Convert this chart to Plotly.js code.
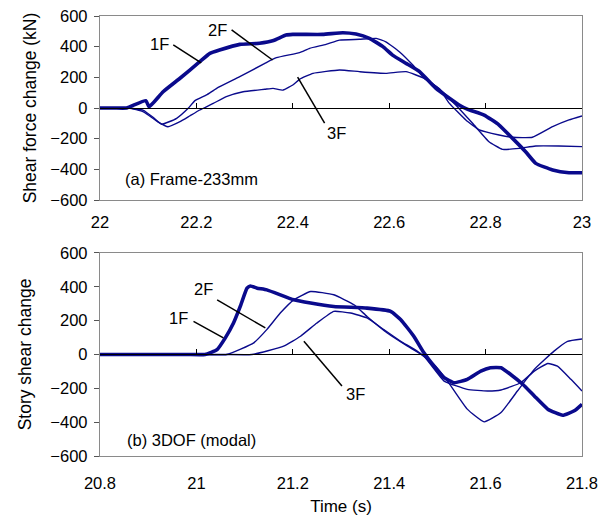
<!DOCTYPE html>
<html>
<head>
<meta charset="utf-8">
<script src="https://cdn.plot.ly/plotly-3.0.1.min.js"></script>
<style>html,body{margin:0;padding:0;background:#fff;}#chart{width:610px;height:516px;}</style>
</head>
<body>
<div id="chart"></div>
<script>
// (a) Frame-233mm
var tA1 = [22, 22.03, 22.055, 22.095, 22.102, 22.131, 22.166, 22.207, 22.228, 22.248, 22.29, 22.331, 22.36, 22.386, 22.40, 22.462, 22.504, 22.531, 22.559, 22.587, 22.607, 22.635, 22.663, 22.697, 22.745, 22.763, 22.797, 22.828, 22.856, 22.883, 22.904, 22.939, 22.973, 23.0];
var vA1 = [0, 0, 0, 48, 8, 106, 194, 302, 356, 378, 415, 422, 440, 476, 480, 480, 491, 482, 454, 400, 345, 291, 237, 128, 20, -9, -46, -111, -198, -285, -361, -404, -422, -422];
var tA2 = [22, 22.03, 22.06, 22.09, 22.11, 22.128, 22.159, 22.183, 22.197, 22.221, 22.242, 22.29, 22.342, 22.366, 22.414, 22.435, 22.469, 22.497, 22.538, 22.573, 22.593, 22.621, 22.649, 22.673, 22.704, 22.738, 22.773, 22.807, 22.835, 22.87, 22.904, 22.952, 23.0];
var vA2 = [0, 0, 0, -15, -60, -106, -67, -2, 48, 85, 128, 204, 291, 328, 361, 389, 415, 443, 448, 454, 432, 367, 280, 193, 125, 20, -100, -220, -270, -263, -248, -248, -252];
var tA3 = [22, 22.03, 22.06, 22.09, 22.12, 22.141, 22.166, 22.186, 22.207, 22.235, 22.262, 22.297, 22.342, 22.359, 22.38, 22.40, 22.414, 22.442, 22.497, 22.538, 22.593, 22.635, 22.673, 22.704, 22.725, 22.759, 22.787, 22.828, 22.856, 22.897, 22.939, 22.973, 23.0];
var vA3 = [0, 0, 0, -25, -90, -122, -89, -52, -13, 30, 74, 106, 122, 128, 117, 150, 187, 226, 248, 237, 226, 237, 193, 125, 30, -78, -143, -176, -191, -191, -122, -78, -52];

// (b) 3DOF (modal)
var tB1 = [20.8, 20.9, 20.98, 21.018, 21.043, 21.06, 21.077, 21.091, 21.105, 21.112, 21.126, 21.146, 21.202, 21.237, 21.285, 21.354, 21.403, 21.424, 21.451, 21.472, 21.493, 21.514, 21.535, 21.562, 21.59, 21.61, 21.632, 21.652, 21.677, 21.701, 21.729, 21.76, 21.784, 21.8];
var vB1 = [0, 0, 0, 0, 29, 98, 186, 284, 392, 405, 392, 382, 323, 304, 284, 274, 255, 206, 108, 10, -69, -137, -167, -147, -98, -78, -78, -118, -176, -245, -323, -359, -333, -294];
var tB2 = [20.8, 20.9, 21.0, 21.063, 21.119, 21.146, 21.174, 21.202, 21.237, 21.285, 21.327, 21.354, 21.396, 21.438, 21.472, 21.514, 21.562, 21.604, 21.632, 21.673, 21.701, 21.729, 21.749, 21.777, 21.8];
var vB2 = [0, 0, 0, 0, 69, 147, 245, 323, 372, 353, 294, 225, 127, 49, -10, -157, -206, -216, -210, -167, -98, -53, -69, -147, -216];
var tB3 = [20.8, 20.9, 21.0, 21.06, 21.115, 21.181, 21.216, 21.25, 21.285, 21.32, 21.354, 21.389, 21.424, 21.458, 21.493, 21.521, 21.562, 21.597, 21.632, 21.666, 21.701, 21.742, 21.77, 21.8];
var vB3 = [0, 0, 0, 0, 0, 49, 108, 186, 255, 245, 216, 147, 78, 20, -59, -157, -323, -398, -343, -216, -88, 20, 78, 92];

var xTicksA = [22, 22.2, 22.4, 22.6, 22.8, 23];
var xTicksB = [20.8, 21, 21.2, 21.4, 21.6, 21.8];
var yTicks = [-600, -400, -200, 0, 200, 400, 600];
var storyLabels = ['1F', '2F', '3F'];

var NAVY = '#0a0a8c';
var FONT = 'Liberation Sans, Arial, sans-serif';

function ln(x, y, w, xa, ya) {
  return {x: x, y: y, type: 'scatter', mode: 'lines', xaxis: xa, yaxis: ya,
    line: {color: NAVY, width: w, shape: 'spline', smoothing: 0.4}, showlegend: false, hoverinfo: 'skip'};
}

var data = [
  ln(tA3, vA3, 1.4, 'x', 'y'),
  ln(tA2, vA2, 1.4, 'x', 'y'),
  ln(tA1, vA1, 3.6, 'x', 'y'),
  ln(tB3, vB3, 1.4, 'x2', 'y2'),
  ln(tB2, vB2, 1.4, 'x2', 'y2'),
  ln(tB1, vB1, 3.6, 'x2', 'y2'),
  {x: [], y: [], type: 'scatter', xaxis: 'x3', yaxis: 'y', showlegend: false},
  {x: [], y: [], type: 'scatter', xaxis: 'x4', yaxis: 'y2', showlegend: false}
];

var domA = [0.5818, 1];
var domB = [0, 0.4614];
var tf = {family: FONT, size: 16.5, color: '#000'};

function zeroAxis(range, ticks, pos) {
  return {domain: [0, 1], anchor: 'free', position: pos, range: range,
    tickvals: ticks, ticks: 'inside', ticklen: 5, tickcolor: '#000', tickwidth: 1,
    showticklabels: false, showline: true, linecolor: '#000', linewidth: 1,
    showgrid: false, zeroline: false, fixedrange: true};
}
function labelAxis(over, anc, range, ticks, standoff) {
  return {domain: [0, 1], overlaying: over, anchor: anc, range: range,
    tickvals: ticks, ticktext: ticks.map(String), ticks: '', showline: true, mirror: true,
    linecolor: '#8a8a8a', linewidth: 1.2, showgrid: false, zeroline: false,
    tickfont: tf, ticklabelstandoff: standoff, fixedrange: true};
}
function yAxis(dom, anc, title, standoff) {
  return {domain: dom, anchor: anc, range: [-600, 600], tickvals: yTicks,
    ticks: 'outside', ticklen: 5, tickcolor: '#555', showline: true, mirror: true,
    linecolor: '#8a8a8a', linewidth: 1.2, showgrid: false, zeroline: false,
    tickfont: tf, ticklabelstandoff: 3, fixedrange: true,
    title: {text: title, font: {family: FONT, size: 17.5, color: '#000'}, standoff: standoff}};
}

var xa4 = labelAxis('x2', 'y2', [20.8, 21.8], xTicksB, 12);
xa4.title = {text: 'Time (s)', font: {family: FONT, size: 17, color: '#000'}, standoff: 9};

var layout = {
  width: 610, height: 516,
  margin: {l: 100, r: 28, t: 16, b: 60},
  paper_bgcolor: '#fff', plot_bgcolor: '#fff',
  font: {family: FONT, color: '#000'},
  showlegend: false,
  xaxis: zeroAxis([22, 23], xTicksA, (domA[0] + domA[1]) / 2),
  xaxis2: zeroAxis([20.8, 21.8], xTicksB, (domB[0] + domB[1]) / 2),
  xaxis3: labelAxis('x', 'y', [22, 23], xTicksA, 7),
  xaxis4: xa4,
  yaxis: yAxis(domA, 'x3', 'Shear force change (kN)', 9),
  yaxis2: yAxis(domB, 'x4', 'Story shear change', 14),
  annotations: [
    {xref: 'x', yref: 'y', x: 22.048, y: -466, text: '(a) Frame-233mm', showarrow: false, xanchor: 'left', yanchor: 'middle', font: tf},
    {xref: 'x', yref: 'y', x: 22.124, y: 417, text: storyLabels[0], showarrow: false, font: tf},
    {xref: 'x', yref: 'y', x: 22.244, y: 509, text: storyLabels[1], showarrow: false, font: tf},
    {xref: 'x', yref: 'y', x: 22.491, y: -163, text: storyLabels[2], showarrow: false, font: tf},
    {xref: 'x2', yref: 'y2', x: 20.852, y: -503, text: '(b) 3DOF (modal)', showarrow: false, xanchor: 'left', yanchor: 'middle', font: tf},
    {xref: 'x2', yref: 'y2', x: 20.962, y: 215, text: storyLabels[0], showarrow: false, font: tf},
    {xref: 'x2', yref: 'y2', x: 21.014, y: 388, text: storyLabels[1], showarrow: false, font: tf},
    {xref: 'x2', yref: 'y2', x: 21.330, y: -232, text: storyLabels[2], showarrow: false, font: tf}
  ],
  shapes: [
    {type: 'line', xref: 'x', yref: 'y', x0: 22.152, y0: 411, x1: 22.210, y1: 295, line: {color: '#000', width: 1.5}},
    {type: 'line', xref: 'x', yref: 'y', x0: 22.273, y0: 509, x1: 22.358, y1: 313, line: {color: '#000', width: 1.5}},
    {type: 'line', xref: 'x', yref: 'y', x0: 22.41, y0: 202, x1: 22.466, y1: -98, line: {color: '#000', width: 1.5}},
    {type: 'line', xref: 'x2', yref: 'y2', x0: 20.994, y0: 196, x1: 21.056, y1: 98, line: {color: '#000', width: 1.5}},
    {type: 'line', xref: 'x2', yref: 'y2', x0: 21.043, y0: 323, x1: 21.143, y1: 157, line: {color: '#000', width: 1.5}},
    {type: 'line', xref: 'x2', yref: 'y2', x0: 21.223, y0: 78, x1: 21.302, y1: -186, line: {color: '#000', width: 1.5}}
  ]
};

Plotly.newPlot('chart', data, layout, {staticPlot: true, displayModeBar: false});
</script>
</body>
</html>
